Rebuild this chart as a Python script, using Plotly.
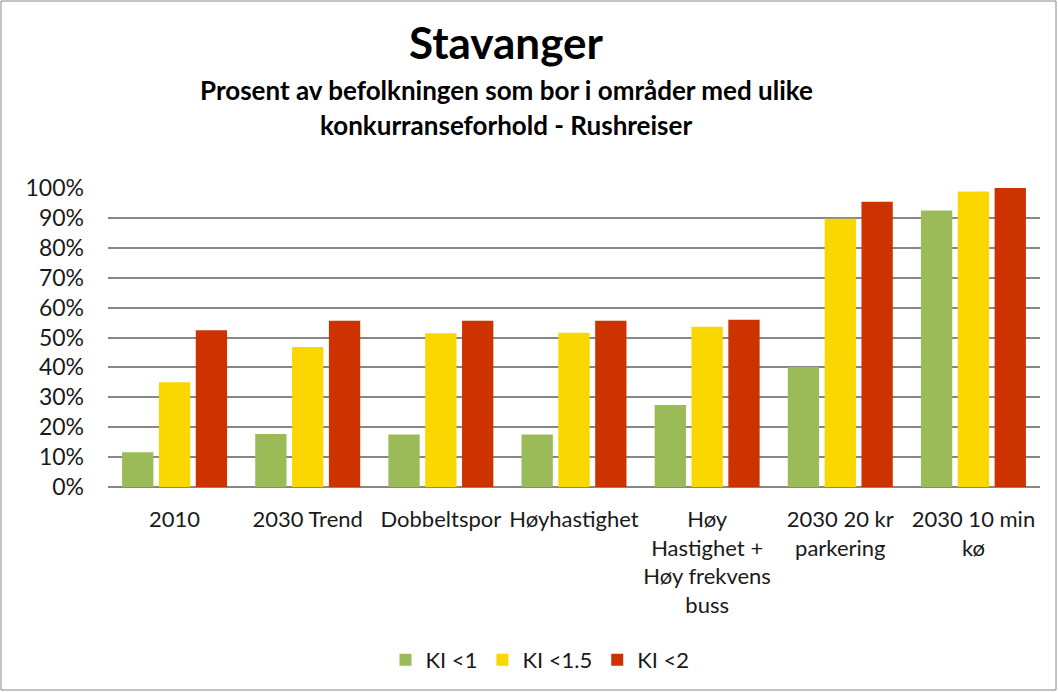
import plotly.graph_objects as go

categories = ["2010", "2030 Trend", "Dobbeltspor", "Høyhastighet",
              "Høy<br>Hastighet +<br>Høy frekvens<br>buss", "2030 20 kr<br>parkering", "2030 10 min<br>kø"]
series_names = ["KI <1", "KI <1.5", "KI <2"]
ki1 = [0.116, 0.177, 0.176, 0.176, 0.274, 0.401, 0.925]
ki15 = [0.350, 0.468, 0.514, 0.516, 0.536, 0.897, 0.988]
ki2 = [0.524, 0.556, 0.556, 0.556, 0.559, 0.954, 1.000]
colors = ["#9BBB59", "#FAD700", "#CC3300"]
tick_vals = [i / 10 for i in range(11)]
tick_text = [f"{i*10}%" for i in range(11)]

FONT = "Lato"
W, H = 1058, 692
L, R, T, B = 108, 1040, 188, 487

fig = go.Figure()
for name, vals, c in zip(series_names, [ki1, ki15, ki2], colors):
    fig.add_trace(go.Bar(x=categories, y=vals, name=name, marker_color=c,
                         marker_line_width=0))

def px_x(p):
    return (p - L) / (R - L)

def px_y(p):
    return (B - p) / (B - T)

fig.update_layout(
    width=W, height=H,
    margin=dict(l=L, r=W - R, t=T, b=H - B, autoexpand=False),
    paper_bgcolor="white", plot_bgcolor="white",
    font=dict(family=FONT, size=22, color="#1a1a1a"),
    barmode="group", bargap=0.17, bargroupgap=0.15,
    showlegend=True,
    legend=dict(orientation="h", x=px_x(540), xanchor="center",
                y=px_y(660), yanchor="middle", font=dict(size=22),
                traceorder="normal"),
    xaxis=dict(showgrid=False, showline=False, ticks="", ticklabelstandoff=17,
               tickfont=dict(size=22)),
    yaxis=dict(range=[0, 1], tickvals=tick_vals, ticktext=tick_text,
               showgrid=True, gridcolor="#878787", gridwidth=1.5,
               zeroline=True, zerolinecolor="#878787", zerolinewidth=1.5,
               ticks="", ticklabelstandoff=23, tickfont=dict(size=23)),
    annotations=[
        dict(text="<b>Stavanger</b>", x=px_x(506), y=px_y(42), xref="paper", yref="paper",
             showarrow=False, font=dict(size=44, family=FONT, color="black"),
             xanchor="center", yanchor="middle"),
        dict(text="<b>Prosent av befolkningen som bor i områder med ulike</b>",
             x=px_x(506), y=px_y(90), xref="paper", yref="paper",
             showarrow=False, font=dict(size=26, family=FONT, color="black"),
             xanchor="center", yanchor="middle"),
        dict(text="<b>konkurranseforhold - Rushreiser</b>",
             x=px_x(506), y=px_y(125), xref="paper", yref="paper",
             showarrow=False, font=dict(size=26, family=FONT, color="black"),
             xanchor="center", yanchor="middle"),
    ],
    shapes=[dict(type="rect", xref="paper", yref="paper",
                 x0=px_x(1), x1=px_x(1056), y0=px_y(690), y1=px_y(1),
                 line=dict(color="#888888", width=1), fillcolor="rgba(0,0,0,0)",
                 layer="below")],
)

fig.write_html("out.html", config={"displayModeBar": False},
               post_script="document.body.style.margin='0px';")
